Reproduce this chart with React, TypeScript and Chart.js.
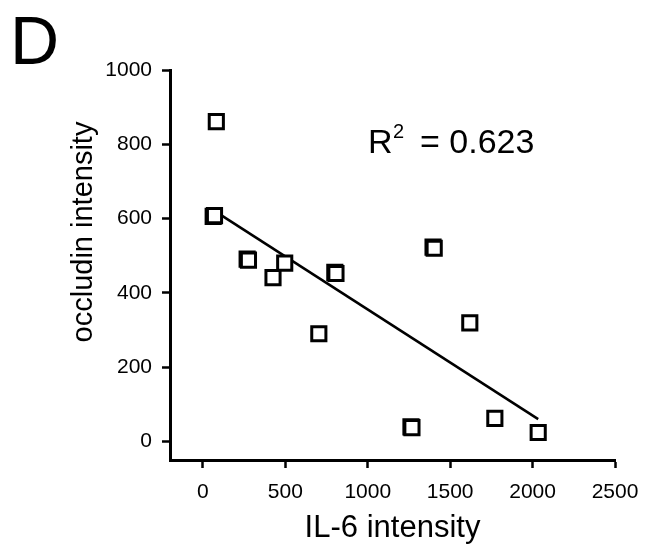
import React, { useEffect, useRef } from "react";
import { Chart, registerables } from "chart.js";

Chart.register(...registerables);

// IL-6 intensity (x) and occludin intensity (y) of each measured sample
// (repeated near-identical pairs reproduce the overlapping, heavier squares)
const il6Values = [81, 62, 70, 268, 276, 425, 496, 800, 807, 703, 1396, 1403, 1619, 1262, 1268, 1771, 2034];
const occludinValues = [861, 606, 608, 491, 488, 441, 480, 455, 452, 290, 523, 520, 319, 39, 37, 62, 24];

// Linear fit line end points
const fitX = [65, 2034];
const fitY = [622, 60];

const xTicks = [0, 500, 1000, 1500, 2000, 2500];
const yTicks = [0, 200, 400, 600, 800, 1000];

const panelLabel = "D";
const r2Base = "R";
const r2Sup = "2";
const r2Value = "= 0.623";
const xTitle = "IL-6 intensity";
const yTitle = "occludin intensity";

const FONT = "'Liberation Sans', Arial, Helvetica, sans-serif";

const textPlugin = {
  id: "panelText",
  afterDraw(chart: any) {
    const ctx = chart.ctx as CanvasRenderingContext2D;
    ctx.save();
    ctx.fillStyle = "#000";
    ctx.textBaseline = "alphabetic";
    ctx.textAlign = "left";
    ctx.font = `68px ${FONT}`;
    ctx.fillText(panelLabel, 10, 64);

    ctx.font = `34px ${FONT}`;
    ctx.fillText(r2Base, 368, 153);
    ctx.font = `20px ${FONT}`;
    ctx.fillText(r2Sup, 393, 138);
    ctx.font = `34px ${FONT}`;
    ctx.fillText(r2Value, 420, 153);

    ctx.translate(92, 232);
    ctx.rotate(-Math.PI / 2);
    ctx.textAlign = "center";
    ctx.font = `29px ${FONT}`;
    ctx.fillText(yTitle, 0, 0);
    ctx.restore();
  },
};

export default function App() {
  const ref = useRef<HTMLCanvasElement | null>(null);

  useEffect(() => {
    if (!ref.current) return;
    const points = il6Values.map((x, i) => ({ x, y: occludinValues[i] }));
    const line = fitX.map((x, i) => ({ x, y: fitY[i] }));
    const chart = new Chart(ref.current, {
      type: "scatter",
      data: {
        datasets: [
          {
            label: "samples",
            data: points,
            pointStyle: "rect",
            pointRadius: 10,
            pointHoverRadius: 10,
            borderWidth: 3,
            borderColor: "#000",
            backgroundColor: "#fff",
          },
          {
            label: "fit",
            data: line,
            showLine: true,
            borderColor: "#000",
            borderWidth: 2.5,
            pointRadius: 0,
            pointHoverRadius: 0,
          },
        ],
      },
      options: {
        animation: false,
        responsive: false,
        events: [],
        layout: { padding: { left: 0, top: 70, right: 32, bottom: 0 } },
        plugins: {
          legend: { display: false },
          tooltip: { enabled: false },
        },
        scales: {
          x: {
            type: "linear",
            min: -200,
            max: 2500,
            afterBuildTicks: (scale: any) => {
              scale.ticks = xTicks.map((v) => ({ value: v }));
            },
            afterFit: (scale: any) => {
              scale.height = 91;
              scale.paddingLeft = 0;
              scale.paddingRight = 0;
            },
            grid: {
              display: true,
              drawOnChartArea: false,
              drawTicks: true,
              tickLength: 8,
              tickWidth: 2.5,
              tickColor: "#000",
            },
            border: { display: true, color: "#000", width: 3 },
            ticks: {
              color: "#000",
              padding: 12,
              maxRotation: 0,
              callback: (v: any) => String(v),
              font: { family: FONT, size: 21 },
            },
            title: {
              display: true,
              text: xTitle,
              color: "#000",
              font: { family: FONT, size: 31, lineHeight: 1.2 },
              padding: { top: 0, bottom: 4 },
            },
          },
          y: {
            type: "linear",
            min: -50,
            max: 1000,
            afterBuildTicks: (scale: any) => {
              scale.ticks = yTicks.map((v) => ({ value: v }));
            },
            afterFit: (scale: any) => {
              scale.width = 170;
              scale.paddingTop = 0;
              scale.paddingBottom = 0;
            },
            grid: {
              display: true,
              drawOnChartArea: false,
              drawTicks: true,
              tickLength: 8,
              tickWidth: 2.5,
              tickColor: "#000",
            },
            border: { display: true, color: "#000", width: 3 },
            ticks: {
              color: "#000",
              padding: 10,
              callback: (v: any) => String(v),
              font: { family: FONT, size: 21 },
            },
          },
        },
      },
      plugins: [textPlugin],
    });
    return () => chart.destroy();
  }, []);

  return (
    <div style={{ position: "fixed", left: 0, top: 0, width: 647, height: 551, background: "#fff" }}>
      <canvas ref={ref} width={647} height={551} style={{ display: "block", width: 647, height: 551 }} />
    </div>
  );
}
